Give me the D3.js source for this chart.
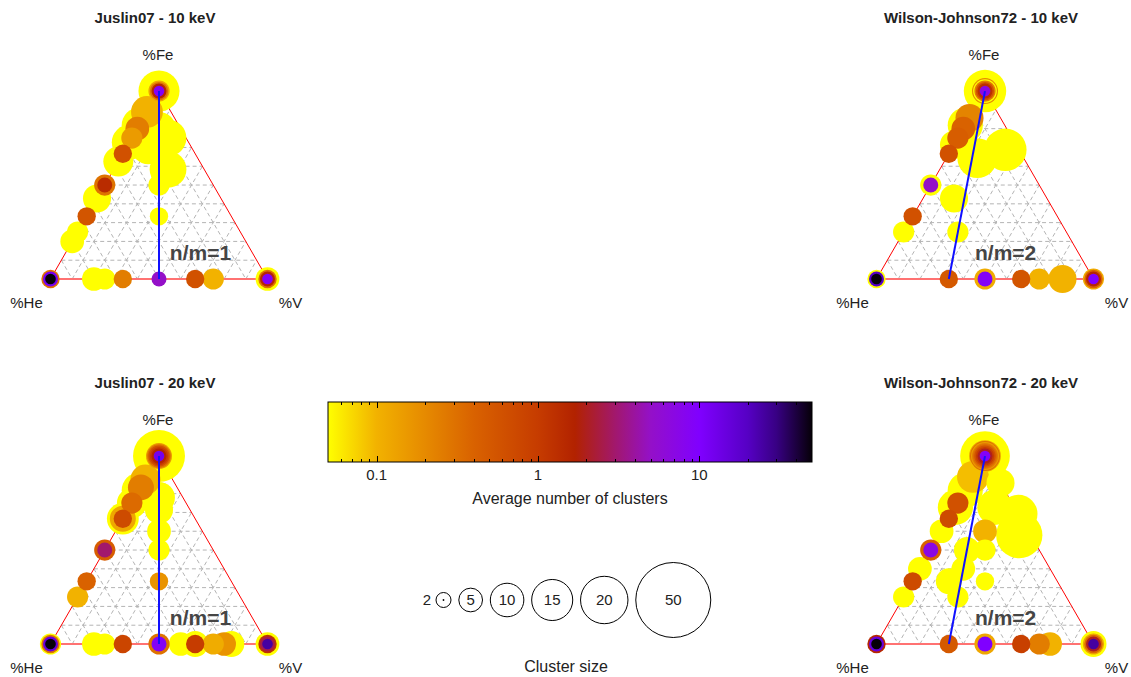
<!DOCTYPE html>
<html>
<head>
<meta charset="utf-8">
<script src="https://cdn.jsdelivr.net/npm/d3@7"></script>
<style>
  body { margin: 0; background: #fff; }
  svg { display: block; font-family: "Liberation Sans", Arial, sans-serif; }
</style>
</head>
<body>
<svg id="chart" width="1131" height="677"></svg>
<script>
// Cluster records: [He atoms, Fe atoms, V atoms, average number of clusters]
const juslin10 = [
  [0,15,0,0.05],[0,4,0,0.12],[0,3,0,0.3],[0,2,0,1.5],[0,1,0,9],
  [1,8,0,0.1],[1,8,1,0.05],[1,9,2,0.05],[2,7,1,0.05],[2,7,3,0.05],
  [1,2,1,0.05],[1,1,1,0.05],
  [2,9,0,0.05],[3,8,0,0.05],[3,5,0,0.05],
  [1,4,0,0.25],[1,3,0,0.15],[1,2,0,0.6],
  [1,1,0,1.4],[2,2,0,0.3],[4,3,0,0.05],[2,1,0,0.55],[3,1,0,0.05],[4,1,0,0.05],
  [1,0,0,50],[2,0,0,12],[3,0,0,0.3],
  [4,0,1,0.05],[3,0,1,0.05],[2,0,1,0.25],[1,0,1,5],[1,0,2,0.6],[1,0,3,0.1],
  [0,0,1,9],[0,0,2,1.5],[0,0,3,0.3],[0,0,5,0.05]
];
const wilson10 = [
  [0,16,0,0.05],[0,6,0,0.2],[0,5,0,0.05],[0,4,0,0.25],[0,3,0,0.6],[0,2,0,1.3],[0,1,0,7],
  [1,6,0,0.22],[2,9,0,0.05],[1,4,0,0.4],[1,3,0,0.45],[2,5,0,0.05],[1,2,0,0.6],
  [1,1,0,5],[2,2,0,0.05],[2,1,0,0.6],[3,1,0,0.05],
  [1,11,4,0.05],[3,9,2,0.05],[3,3,1,0.05],[2,1,1,0.05],
  [1,0,0,50],[2,0,0,20],[3,0,0,0.05],
  [2,0,1,0.5],[1,0,1,9],[2,0,2,0.11],[1,0,2,0.55],[1,0,3,0.1],[1,0,6,0.1],
  [0,0,1,10],[0,0,2,1.5],[0,0,3,0.4],[0,0,4,0.11]
];
const juslin20 = [
  [0,24,0,0.05],[0,6,0,0.15],[0,5,0,0.3],[0,4,0,0.6],[0,3,0,1.0],[0,2,0,1.6],[0,1,0,12],
  [1,7,1,0.05],[1,5,1,0.05],[1,3,1,0.05],[1,2,1,0.05],[1,1,1,0.17],
  [1,7,0,0.1],[1,5,0,0.25],[1,3,0,0.35],[1,2,0,0.7],[2,4,0,0.12],[3,6,0,0.05],
  [2,6,0,0.05],[2,9,0,0.05],
  [1,1,0,3],[2,2,0,0.45],[2,1,0,0.4],[3,1,0,0.1],
  [1,0,0,50],[2,0,0,15],[3,0,0,0.3],[4,0,0,0.05],
  [4,0,1,0.05],[3,0,1,0.05],[2,0,1,0.8],[1,0,1,9],[2,0,2,0.3],[2,0,3,0.05],
  [1,0,2,1.0],[2,0,4,0.05],[1,0,3,0.11],[1,0,4,0.17],[1,0,5,0.05],
  [0,0,1,25],[0,0,2,2.5],[0,0,3,1.2],[0,0,5,0.05]
];
const wilson20 = [
  [0,22,0,0.05],[0,9,0,0.12],[0,8,0,0.3],[0,7,0,0.15],[0,6,0,0.25],[0,5,0,0.35],
  [0,4,0,0.6],[0,3,0,1.0],[0,2,0,2],[0,1,0,9],
  [1,8,0,0.09],[2,9,0,0.05],[3,8,0,0.05],[2,5,0,0.05],[1,3,0,0.6],[1,2,0,0.7],
  [2,3,0,0.05],[1,1,0,7],[2,2,0,0.4],[3,2,0,0.05],[2,1,0,0.7],[3,1,0,0.05],
  [0,9,4,0.05],[1,11,7,0.05],[0,6,1,0.05],[1,8,2,0.05],[1,3,1,0.1],[1,2,1,0.05],
  [1,1,1,0.05],[2,3,1,0.05],[2,2,1,0.05],[3,2,1,0.05],[2,1,1,0.05],
  [1,0,0,50],[2,0,0,15],[3,0,0,1.5],
  [2,0,1,0.5],[1,0,1,10],[2,0,2,0.12],[1,0,2,0.9],[1,0,3,0.25],[1,0,4,0.1],
  [0,0,1,25],[0,0,2,2],[0,0,3,0.35],[0,0,4,0.12],[0,0,6,0.05]
];

const panelTitles = ["Juslin07 - 10 keV", "Wilson-Johnson72 - 10 keV",
                     "Juslin07 - 20 keV", "Wilson-Johnson72 - 20 keV"];
const panelData = [juslin10, wilson10, juslin20, wilson20];
const panelRatios = [1, 2, 1, 2];          // He/V ratio n/m of the guide line
const cornerLabels = ["%He", "%Fe", "%V"];
const colorTicks = [0.1, 1, 10];
const colorDomain = [0.05, 50];
const sizeLegend = [2, 5, 10, 15, 20, 50];
// palette stops: [average number of clusters, colour]
const paletteValues = [0.05, 0.1, 0.2, 0.4, 1.0, 1.7, 3.0, 5.0, 10, 20, 30, 50];
const paletteColors = ["#ffff00", "#f2b200", "#e68a00", "#d96200", "#c63c00", "#b22200",
                       "#a2186c", "#9410c8", "#8000ff", "#5600c4", "#380084", "#060008"];

const svg = d3.select("#chart");

const color = d3.scaleLog().domain(paletteValues).range(paletteColors)
  .interpolate(d3.interpolateRgb).clamp(true);
const radius = d3.scaleSqrt().domain([0, 50]).range([0, 37.5]);

// triangle geometry
const side = 217, tri = side * Math.sqrt(3) / 2;
const panelOrigins = [ {x: 50.5, y: 279}, {x: 876.5, y: 279}, {x: 50.5, y: 644}, {x: 876.5, y: 644} ];
const ratioLabelPos = [0.55, 0.454, 0.55, 0.454];

function drawPanel(i) {
  const o = panelOrigins[i];
  const g = svg.append("g");
  const pos = (he, fe, v) => {
    const t = he + fe + v;
    const f = fe / t, vv = v / t;
    return [o.x + side * (vv + f / 2), o.y - tri * f];
  };
  const He = pos(1, 0, 0), Fe = pos(0, 1, 0), V = pos(0, 0, 1);

  // dashed composition grid, every 10 %
  const grid = g.append("g").attr("stroke", "#b4b4b4").attr("stroke-width", 1)
    .attr("stroke-dasharray", "4,3").attr("fill", "none");
  d3.range(1, 10).forEach(k => {
    const a = k / 10;
    [[pos(1 - a, a, 0), pos(0, a, 1 - a)],
     [pos(1 - a, 0, a), pos(0, 1 - a, a)],
     [pos(a, 1 - a, 0), pos(a, 0, 1 - a)]].forEach(([p, q]) =>
      grid.append("line").attr("x1", p[0]).attr("y1", p[1]).attr("x2", q[0]).attr("y2", q[1]));
  });

  // triangle frame
  g.append("path").attr("d", d3.line()([He, Fe, V])).attr("fill", "none")
    .attr("stroke", "#ff0000").attr("stroke-width", 1);
  g.append("line").attr("x1", He[0]).attr("y1", He[1]).attr("x2", V[0]).attr("y2", V[1])
    .attr("stroke", "#ff7272").attr("stroke-width", 2);

  // clusters, larger ones underneath
  const recs = panelData[i].map(d => ({he: d[0], fe: d[1], v: d[2], avg: d[3], n: d[0] + d[1] + d[2]}))
    .sort((a, b) => b.n - a.n);
  g.append("g").selectAll("circle").data(recs).join("circle")
    .attr("cx", d => pos(d.he, d.fe, d.v)[0])
    .attr("cy", d => pos(d.he, d.fe, d.v)[1])
    .attr("r", d => radius(d.n))
    .attr("fill", d => color(d.avg));

  // n/m guide line from pure Fe to the He_n V_m base point
  const r = panelRatios[i];
  const base = pos(r, 0, 1);
  g.append("line").attr("x1", Fe[0]).attr("y1", Fe[1]).attr("x2", base[0]).attr("y2", base[1])
    .attr("stroke", "#1010ff").attr("stroke-width", 2);
  g.append("text").attr("x", o.x + side * ratioLabelPos[i]).attr("y", o.y - 19)
    .attr("font-size", 21).attr("font-weight", "bold").attr("fill", "#454545")
    .text("n/m=" + r);

  // corner labels
  g.append("text").attr("x", He[0] - 24).attr("y", o.y + 29).attr("text-anchor", "middle")
    .attr("font-size", 15).attr("fill", "#222").text(cornerLabels[0]);
  g.append("text").attr("x", Fe[0] - 1).attr("y", Fe[1] - 31).attr("text-anchor", "middle")
    .attr("font-size", 15).attr("fill", "#222").text(cornerLabels[1]);
  g.append("text").attr("x", V[0] + 23).attr("y", o.y + 29).attr("text-anchor", "middle")
    .attr("font-size", 15).attr("fill", "#222").text(cornerLabels[2]);

  // title
  g.append("text").attr("x", Fe[0] - 4).attr("y", Fe[1] - 68).attr("text-anchor", "middle")
    .attr("font-size", 15).attr("font-weight", "bold").attr("fill", "#222").text(panelTitles[i]);
}
d3.range(4).forEach(drawPanel);

// colour bar
const cb = {x: 328, y: 402, w: 484, h: 60};
const cx = d3.scaleLog().domain(colorDomain).range([cb.x, cb.x + cb.w]);
const grad = svg.append("defs").append("linearGradient").attr("id", "cbar")
  .attr("x1", "0%").attr("x2", "100%").attr("y1", "0%").attr("y2", "0%");
paletteValues.forEach((v, k) => grad.append("stop")
  .attr("offset", ((cx(v) - cb.x) / cb.w * 100) + "%").attr("stop-color", paletteColors[k]));
svg.append("rect").attr("x", cb.x).attr("y", cb.y).attr("width", cb.w).attr("height", cb.h)
  .attr("fill", "url(#cbar)").attr("stroke", "#000").attr("stroke-width", 1);
const minor = cx.ticks().filter(t => t > colorDomain[0] && t < colorDomain[1]);
const tk = svg.append("g").attr("stroke", "#000").attr("stroke-width", 1);
minor.forEach(t => {
  const len = colorTicks.includes(t) ? 6 : 3;
  const xx = Math.round(cx(t)) + 0.5;
  tk.append("line").attr("x1", xx).attr("x2", xx).attr("y1", cb.y).attr("y2", cb.y + len);
  tk.append("line").attr("x1", xx).attr("x2", xx).attr("y1", cb.y + cb.h).attr("y2", cb.y + cb.h - len);
});
svg.append("g").selectAll("text").data(colorTicks).join("text")
  .attr("x", d => cx(d)).attr("y", cb.y + cb.h + 18).attr("text-anchor", "middle")
  .attr("font-size", 15).attr("fill", "#222").text(d => d3.format("~g")(d));
svg.append("text").attr("x", cb.x + cb.w / 2).attr("y", cb.y + cb.h + 42).attr("text-anchor", "middle")
  .attr("font-size", 16).attr("fill", "#222").text("Average number of clusters");

// size legend
const legY = 600, gap = 7.8;
let edge = 436;
const legItems = sizeLegend.map(s => {
  const r = radius(s), c = edge + r;
  edge = c + r + gap;
  return {s, r, c};
});
const leg = svg.append("g");
leg.selectAll("circle").data(legItems).join("circle")
  .attr("cx", d => d.c).attr("cy", legY).attr("r", d => d.r)
  .attr("fill", "none").attr("stroke", "#000").attr("stroke-width", 1);
leg.selectAll("text").data(legItems).join("text")
  .attr("x", (d, k) => k === 0 ? d.c - d.r - 5 : d.c)
  .attr("y", legY + 5).attr("text-anchor", (d, k) => k === 0 ? "end" : "middle")
  .attr("font-size", 15).attr("fill", "#222").text(d => d.s);
leg.append("circle").attr("cx", legItems[0].c).attr("cy", legY).attr("r", 0.9).attr("fill", "#000");
svg.append("text").attr("x", 566).attr("y", 672).attr("text-anchor", "middle")
  .attr("font-size", 16).attr("fill", "#222").text("Cluster size");
</script>
</body>
</html>
